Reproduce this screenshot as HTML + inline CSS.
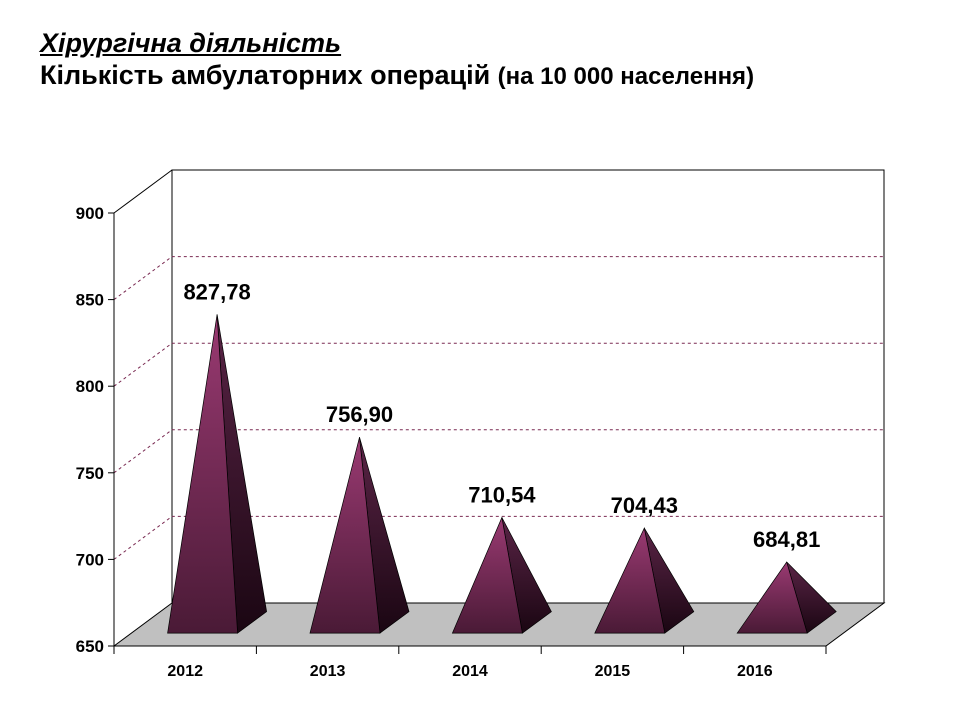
<!DOCTYPE html>
<html><head><meta charset="utf-8">
<style>
body{margin:0;background:#fff;width:960px;height:720px;overflow:hidden;font-family:"Liberation Sans",Arial,sans-serif}
.t1{position:absolute;left:40px;top:28px;font-size:27px;font-weight:bold;font-style:italic;text-decoration:underline;white-space:nowrap}
.t2{position:absolute;left:40px;top:60px;font-size:27px;font-weight:bold;white-space:nowrap}
.t2 small{font-size:24px}
svg{position:absolute;left:0;top:0}
</style></head><body>
<div class="t1">Хірургічна діяльність</div>
<div class="t2">Кількість амбулаторних операцій <small>(на 10 000 населення)</small></div>
<svg id="c" width="960" height="720">
<defs>
<linearGradient id="gf" x1="0" y1="0" x2="0" y2="1"><stop offset="0" stop-color="#9a3a72"/><stop offset="1" stop-color="#4a1a36"/></linearGradient>
<linearGradient id="gr" x1="0" y1="0" x2="0" y2="1"><stop offset="0" stop-color="#5a2446"/><stop offset="1" stop-color="#1a0612"/></linearGradient>
</defs>
</svg>
<script>
const categories=["2012","2013","2014","2015","2016"];
const values=[827.78,756.90,710.54,704.43,684.81];
const labels=["827,78","756,90","710,54","704,43","684,81"];
const ticks=[650,700,750,800,850,900];
const NS="http://www.w3.org/2000/svg";
const svg=document.getElementById('c');
const X0=114,X1=826,Y0=646,DX=58,DY=-43,YMIN=650,YMAX=900,H=433;
function y(v){return Y0-(v-YMIN)/(YMAX-YMIN)*H;}
function cx(i){return X0+(X1-X0)/categories.length*(i+0.5);}
function el(t,a,p){const e=document.createElementNS(NS,t);for(const k in a)e.setAttribute(k,a[k]);(p||svg).appendChild(e);return e;}
let w=el('polygon',{points:`${X0+DX},${Y0+DY} ${X0+DX},${y(YMAX)+DY} ${X1+DX},${y(YMAX)+DY} ${X1+DX},${Y0+DY}`,fill:'#fff',stroke:'#000','stroke-width':1});

el('line',{x1:X0,y1:y(YMAX),x2:X0+DX,y2:y(YMAX)+DY,stroke:'#000'});
ticks.forEach(t=>{
  if(t>YMIN&&t<YMAX){
    let g=el('polyline',{points:`${X0},${y(t)} ${X0+DX},${y(t)+DY} ${X1+DX},${y(t)+DY}`,fill:'none',stroke:'#7a2a52','stroke-dasharray':'3,3','stroke-width':1});
    
  }
  el('line',{x1:X0-6,y1:y(t),x2:X0,y2:y(t),stroke:'#000'});
  let tx=el('text',{x:X0-10,y:y(t)+6,'text-anchor':'end','font-size':17,'font-weight':'bold','font-family':'Liberation Sans, sans-serif'});
  tx.textContent=t;
  
});
let fl=el('polygon',{points:`${X0},${Y0} ${X0+DX},${Y0+DY} ${X1+DX},${Y0+DY} ${X1},${Y0}`,fill:'#c0c0c0',stroke:'#000','stroke-width':1});

el('line',{x1:X0,y1:y(YMAX),x2:X0,y2:Y0,stroke:'#000'});
el('line',{x1:X0,y1:Y0,x2:X1,y2:Y0,stroke:'#000'});
for(let i=0;i<=categories.length;i++){const xx=X0+(X1-X0)/categories.length*i;el('line',{x1:xx,y1:Y0,x2:xx,y2:Y0+8,stroke:'#000'});}
categories.forEach((c,i)=>{
  let tx=el('text',{x:cx(i),y:676,'text-anchor':'middle','font-size':16,'font-weight':'bold','font-family':'Liberation Sans, sans-serif'});
  tx.textContent=c;
  
  const f0=0.3,f1=0.8,fm=0.55,hw=35;
  const bx=cx(i)+DX*f0,by=Y0+DY*f0;
  const rx=cx(i)+hw+DX*f1,ry=Y0+DY*f1;
  const ax=cx(i)+DX*fm,ay=y(values[i])+DY*fm;
  const g=el('g',{});
  
  el('polygon',{points:`${bx+hw},${by} ${rx},${ry} ${ax},${ay}`,fill:'url(#gr)',stroke:'#000','stroke-width':0.7},g);
  el('polygon',{points:`${bx-hw},${by} ${bx+hw},${by} ${ax},${ay}`,fill:'url(#gf)',stroke:'#000','stroke-width':0.7},g);
  let lb=el('text',{x:ax,y:ay-15,'text-anchor':'middle','font-size':22,'font-weight':'bold','font-family':'Liberation Sans, sans-serif'});
  lb.textContent=labels[i];
  
});
</script>
</body></html>
